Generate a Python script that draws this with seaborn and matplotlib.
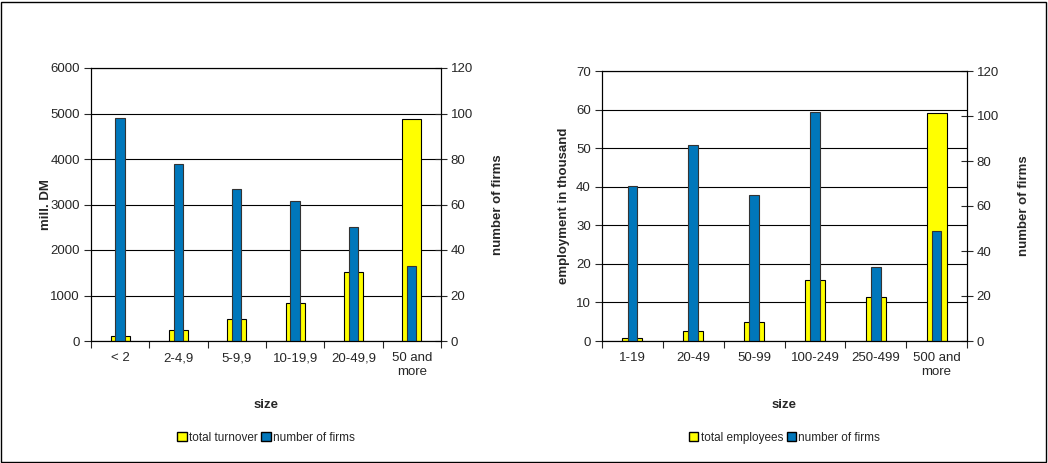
import matplotlib
matplotlib.use("Agg")
import matplotlib.pyplot as plt
from matplotlib.patches import Patch, Rectangle
from matplotlib.ticker import FixedLocator
import pandas as pd
import seaborn as sns

# left panel: turnover by size class (mill. DM)
turnover_sizes = ["< 2", "2-4,9", "5-9,9", "10-19,9", "20-49,9", "50 and\nmore"]
turnover = [110, 250, 480, 840, 1510, 4880]
turnover_firms = [98, 78, 67, 61.5, 50, 33]

# right panel: employment by size class (thousand)
employ_sizes = ["1-19", "20-49", "50-99", "100-249", "250-499", "500 and\nmore"]
employees = [0.8, 2.5, 4.9, 15.9, 11.5, 59.2]
employ_firms = [69, 87, 65, 102, 33, 49]

YELLOW = "#FFFF00"
BLUE = "#0077BB"

sns.set_style("white")
plt.rcParams["font.family"] = ["Liberation Sans", "DejaVu Sans"]
plt.rcParams["font.size"] = 9.5


def panel(fig, rect, cats, vals, firms, ylim, yticks, ylabel, ylabelpad, legend_label):
    ax = fig.add_axes(rect)
    df = pd.DataFrame({"size": cats, "value": vals, "firms": firms})
    sns.barplot(data=df, x="size", y="value", order=cats, color=YELLOW,
                saturation=1, width=0.33, edgecolor="black", linewidth=0.8, ax=ax)
    ax.set_ylim(*ylim)
    ax.set_yticks(yticks)
    ax.set_xlim(-0.5, len(cats) - 0.5)
    ax.yaxis.grid(True, color="black", linewidth=0.8)
    ax.set_axisbelow(True)
    ax.tick_params(axis="y", direction="out", length=5, left=True, width=0.8, pad=3)
    ax.tick_params(axis="x", which="major", length=0, pad=8)
    ax.xaxis.set_minor_locator(FixedLocator([i - 0.5 for i in range(len(cats) + 1)]))
    ax.tick_params(axis="x", which="minor", direction="out", length=5, width=0.8, bottom=True)
    ax.set_xlabel("size", fontweight="bold", labelpad=15)
    ax.set_ylabel(ylabel, fontweight="bold", labelpad=ylabelpad)
    for s in ax.spines.values():
        s.set_color("black")
        s.set_linewidth(0.8)

    ax2 = ax.twinx()
    sns.barplot(data=df, x="size", y="firms", order=cats, color=BLUE,
                saturation=1, width=0.16, edgecolor="#333333", linewidth=0.8, ax=ax2)
    ax2.set_ylim(0, 120)
    ax2.set_yticks(range(0, 121, 20))
    ax2.set_xlim(-0.5, len(cats) - 0.5)
    ax2.tick_params(axis="y", direction="inout", length=8, right=True, width=0.8, pad=3)
    ax2.set_ylabel("number of firms", fontweight="bold", labelpad=14)
    for s in ax2.spines.values():
        s.set_color("black")
        s.set_linewidth(0.8)

    handles = [Patch(facecolor=YELLOW, edgecolor="black", label=legend_label),
               Patch(facecolor=BLUE, edgecolor="black", label="number of firms")]
    x0, y0, w, h = rect
    fig.legend(handles=handles, loc="center", bbox_to_anchor=(x0 + w / 2, 0.054),
               ncol=2, frameon=False, fontsize=8.5, handlelength=0.8, handleheight=0.8,
               handletextpad=0.2, columnspacing=0.3, borderpad=0)
    return ax


fig = plt.figure(figsize=(10.48, 4.63), dpi=100)
fig.patches.append(Rectangle((0.001, 0.002), 0.997, 0.994, transform=fig.transFigure,
                             fill=False, edgecolor="black", linewidth=1))

panel(fig, [91 / 1048, 1 - 341 / 463, 350 / 1048, 273 / 463],
      turnover_sizes, turnover, turnover_firms, (0, 6000), range(0, 6001, 1000),
      "mill. DM", -1, "total turnover")
panel(fig, [602 / 1048, 1 - 341 / 463, 365 / 1048, 270 / 463],
      employ_sizes, employees, employ_firms, (0, 70), range(0, 71, 10),
      "employment in thousand", 4, "total employees")

fig.savefig("out.png", dpi=100)
